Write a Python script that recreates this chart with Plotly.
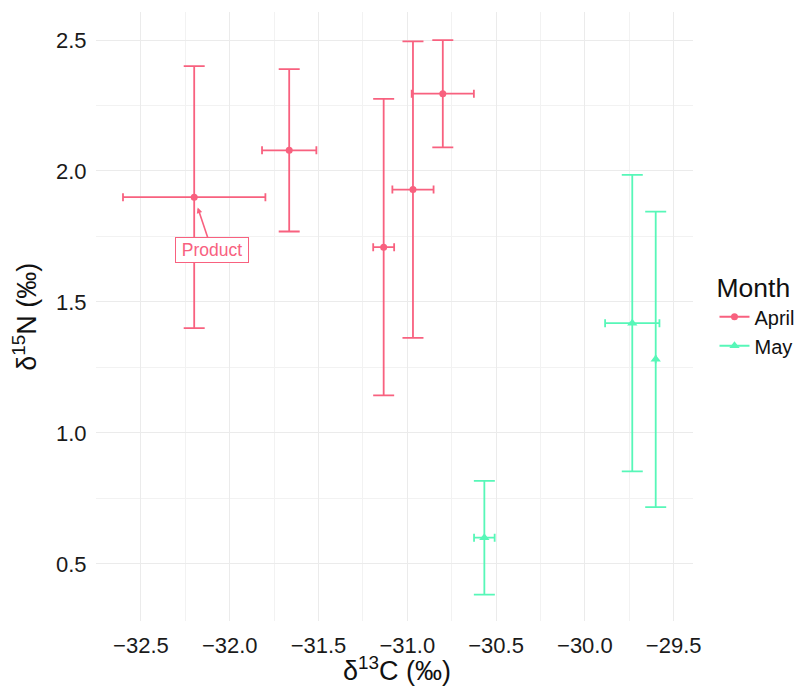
import plotly.graph_objects as go

# ---- data ----
april_x = [-32.20, -31.665, -31.133, -30.968, -30.800]
april_y = [1.900, 2.079, 1.709, 1.929, 2.295]
april_xerr = [0.401, 0.153, 0.059, 0.116, 0.175]
april_yerr = [0.500, 0.310, 0.566, 0.566, 0.205]

may_x = [-30.566, -29.733, -29.601]
may_y = [0.600, 1.419, 1.281]
may_xerr = [0.058, 0.153, 0.0]
may_yerr = [0.217, 0.566, 0.564]

series_names = ["April", "May"]
label_text = "Product"
label_index = 0  # April point labelled
x_title = "δ<sup>13</sup>C (‰)"
y_title = "δ<sup>15</sup>N (‰)"
legend_title = "Month"

PINK = "#F8617F"
GREEN = "#57F7B8"
FONT = "Liberation Sans, Arial, sans-serif"

fig = go.Figure()

def add_series(xs, ys, xe, ye, color, symbol, msize, name):
    fig.add_trace(go.Scatter(
        x=xs, y=ys, mode="markers", name=name, showlegend=False,
        marker=dict(color=color, symbol=symbol, size=msize),
        error_x=dict(type="data", array=xe, visible=True, color=color,
                     thickness=1.8, width=4),
        error_y=dict(type="data", array=ye, visible=True, color=color,
                     thickness=1.8, width=10.5),
    ))
    # legend key (line + marker like the reference)
    fig.add_trace(go.Scatter(
        x=[None], y=[None], mode="lines+markers", name=name,
        line=dict(color=color, width=2),
        marker=dict(color=color, symbol=symbol, size=msize),
    ))

add_series(april_x, april_y, april_xerr, april_yerr, PINK, "circle", 7, series_names[0])
add_series(may_x, may_y, may_xerr, may_yerr, GREEN, "triangle-up", 9, series_names[1])

fig.add_annotation(
    x=april_x[label_index], y=april_y[label_index], xref="x", yref="y",
    text=label_text, showarrow=True, ax=17.7, ay=52.7,
    arrowcolor=PINK, arrowwidth=1.6, arrowhead=2, arrowsize=0.7, standoff=11,
    font=dict(family=FONT, size=17.5, color=PINK),
    width=66, height=18,
    bgcolor="white", bordercolor=PINK, borderwidth=1, borderpad=3,
)

# axis titles
fig.add_annotation(
    text=x_title, xref="paper", yref="paper", x=0.505, y=-0.078,
    xanchor="center", yanchor="middle", showarrow=False,
    font=dict(family=FONT, size=27, color="#111"),
)
fig.add_annotation(
    text=y_title, xref="paper", yref="paper", x=-0.12, y=0.5,
    xanchor="center", yanchor="middle", showarrow=False, textangle=-90,
    font=dict(family=FONT, size=27, color="#111"),
)

axis_common = dict(
    showline=False, zeroline=False, automargin=False,
    gridcolor="#EBEBEB", gridwidth=1.1,
    tickfont=dict(family=FONT, size=22, color="#1a1a1a"),
    ticks="outside", tickcolor="rgba(0,0,0,0)",
    dtick=0.5, tickformat=".1f",
    minor=dict(dtick=0.25, showgrid=True, gridcolor="#F2F2F2", gridwidth=0.8),
)

fig.update_xaxes(range=[-32.753, -29.391], tick0=-32.5, ticklen=5, **axis_common)
fig.update_yaxes(range=[0.282, 2.607], tick0=0.5, ticklen=4, **axis_common)

fig.update_layout(
    width=798, height=686,
    margin=dict(l=96, r=105, t=12, b=65, autoexpand=False),
    plot_bgcolor="white", paper_bgcolor="white",
    legend=dict(
        title=dict(text=legend_title, font=dict(family=FONT, size=26.5, color="#111")),
        font=dict(family=FONT, size=20, color="#111"),
        x=1.036, y=0.588, xanchor="left", yanchor="top",
        tracegroupgap=0, itemwidth=30,
    ),
)

fig.write_html(
    "out.html",
    config={"displayModeBar": False},
    post_script="document.body.style.margin='0';document.body.style.overflow='hidden';",
)
